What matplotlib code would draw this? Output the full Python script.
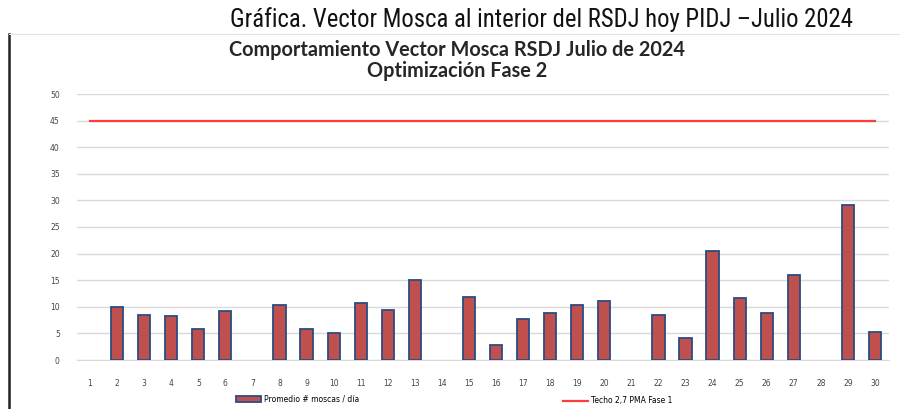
import matplotlib.pyplot as plt
from matplotlib import font_manager
from matplotlib.lines import Line2D

# Datos (promedio de moscas por día, julio 2024)
dias = [str(d) for d in range(1, 31)]
promedio = [0, 10.0, 8.4, 8.2, 5.8, 9.2, 0, 10.3, 5.9, 5.1,
            10.7, 9.4, 15.1, 0, 11.8, 2.9, 7.7, 8.9, 10.4, 11.1,
            0, 8.4, 4.2, 20.5, 11.7, 8.9, 16.0, 0, 29.2, 5.2]
techo = [45] * 30
yticks = [0, 5, 10, 15, 20, 25, 30, 35, 40, 45, 50]

W, H = 900, 409


def fy(py):
    return 1 - py / H


# fuente estrecha para el encabezado, si existe
narrow = 'DejaVu Sans'
for fam in ['Liberation Sans Narrow', 'Arial Narrow', 'DejaVu Sans Condensed', 'Roboto Condensed']:
    try:
        font_manager.findfont(fam, fallback_to_default=False)
        narrow = fam
        break
    except Exception:
        pass

fig = plt.figure(figsize=(9, 4.09), dpi=100)
ax = fig.add_axes([76.5 / W, 49 / H, 812 / W, 266 / H])

x = list(range(1, 31))
# los días sin dato (0) no se dibujan
xb = [xi for xi, v in zip(x, promedio) if v > 0]
vb = [v for v in promedio if v > 0]
bars = ax.bar(xb, vb, width=0.45, color='#C0504D', edgecolor='#2B4C80',
              linewidth=1.3, label='Promedio # moscas / día', zorder=3)
line, = ax.plot(x, techo, color='#FF3B3B', linewidth=1.6, label='Techo 2,7 PMA Fase 1', zorder=3)

ax.set_xlim(0.5, 30.5)
ax.set_ylim(0, 50)
ax.set_yticks(yticks)
ax.set_xticks(x)
ax.set_xticklabels(dias)
ax.tick_params(axis='both', length=0, labelsize=5.5, colors='#444444')
ax.tick_params(axis='x', pad=14)
ax.tick_params(axis='y', pad=12)
ax.grid(axis='y', color='#D9D9D9', linewidth=1, zorder=0)
for s in ['top', 'right', 'left']:
    ax.spines[s].set_visible(False)
ax.spines['bottom'].set_color('#D9D9D9')

fig.legend(handles=[bars], loc='center left', bbox_to_anchor=(236 / W, fy(399)), frameon=False,
           fontsize=5.5, handlelength=3.3, handletextpad=0.4, borderpad=0, borderaxespad=0)
fig.legend(handles=[line], loc='center left', bbox_to_anchor=(563 / W, fy(401)), frameon=False,
           fontsize=5.5, handlelength=3.3, handletextpad=0.4, borderpad=0, borderaxespad=0)

cap = fig.text(541 / W, fy(20), 'Gráfica. Vector Mosca al interior del RSDJ hoy PIDJ –Julio 2024',
               ha='center', va='center', fontsize=19, family=[narrow, 'DejaVu Sans'], color='#111111')
# ajustar el tamaño para que ocupe el mismo ancho que en el original
r = fig.canvas.get_renderer()
wpx = cap.get_window_extent(r).width
cap.set_fontsize(19 * 623 / wpx)

fig.text(457 / W, fy(50), 'Comportamiento Vector Mosca RSDJ Julio de 2024',
         ha='center', va='center', fontsize=14.3, fontweight='bold', family='Lato', color='#262626')
fig.text(457 / W, fy(71), 'Optimización Fase 2',
         ha='center', va='center', fontsize=14.3, fontweight='bold', family='Lato', color='#262626')

# marco izquierdo y superior
fig.add_artist(Line2D([9 / W, 9 / W], [0, fy(34)], color='#222222', linewidth=1.8))
fig.add_artist(Line2D([9 / W, 1], [fy(34), fy(34)], color='#E3E3E3', linewidth=0.8))

fig.savefig('out.png', dpi=100)
